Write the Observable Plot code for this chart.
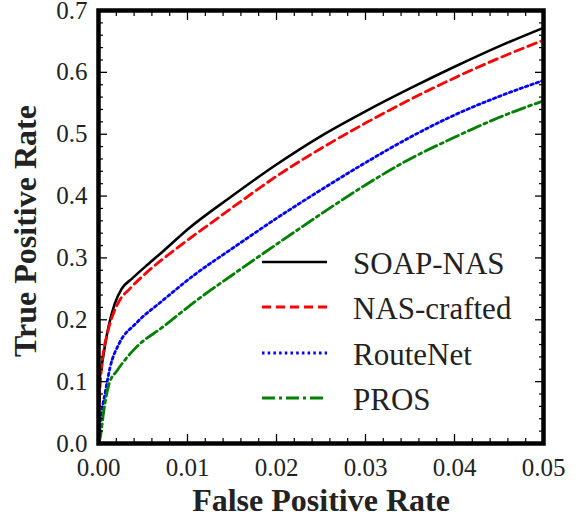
<!DOCTYPE html>
<html><head><meta charset="utf-8">
<script src="https://cdn.jsdelivr.net/npm/d3@7"></script>
<script src="https://cdn.jsdelivr.net/npm/@observablehq/plot@0.6"></script>
<style>body{margin:0;background:#fff}</style>
</head><body><div id="chart"></div>
<script>
const methods = ["SOAP-NAS", "NAS-crafted", "RouteNet", "PROS"];
const soapX = [0, 0.0001, 0.0004, 0.0011, 0.0018, 0.0026, 0.0038, 0.0055, 0.0072, 0.01, 0.015, 0.02, 0.025, 0.03, 0.035, 0.04, 0.045, 0.05];
const soapY = [0, 0.1, 0.129, 0.187, 0.225, 0.25, 0.267, 0.289, 0.31, 0.346, 0.4, 0.451, 0.497, 0.537, 0.574, 0.609, 0.642, 0.672];
const nasX = [0, 0.0001, 0.0004, 0.001, 0.0017, 0.0024, 0.0035, 0.0053, 0.009, 0.0128, 0.015, 0.02, 0.025, 0.03, 0.035, 0.04, 0.045, 0.05];
const nasY = [0, 0.065, 0.129, 0.178, 0.211, 0.232, 0.25, 0.275, 0.318, 0.358, 0.381, 0.432, 0.477, 0.518, 0.556, 0.591, 0.623, 0.652];
const rnX = [0, 0.0002, 0.0008, 0.0013, 0.0023, 0.0042, 0.0072, 0.0109, 0.015, 0.02, 0.025, 0.03, 0.035, 0.04, 0.045, 0.05];
const rnY = [0, 0.032, 0.086, 0.123, 0.161, 0.194, 0.231, 0.274, 0.315, 0.364, 0.41, 0.454, 0.495, 0.531, 0.561, 0.587];
const prosX = [0, 0.0002, 0.0006, 0.0012, 0.0021, 0.0042, 0.0072, 0.0109, 0.015, 0.02, 0.025, 0.03, 0.035, 0.04, 0.045, 0.05];
const prosY = [0, 0.01, 0.053, 0.097, 0.118, 0.155, 0.188, 0.23, 0.272, 0.322, 0.371, 0.418, 0.46, 0.495, 0.527, 0.554];
const xTicks = [0, 0.01, 0.02, 0.03, 0.04, 0.05];
const yTicks = [0, 0.1, 0.2, 0.3, 0.4, 0.5, 0.6, 0.7];

const styles = [
  {stroke: "#000000", dash: null, width: 2.6},
  {stroke: "#ff0000", dash: "9,5", width: 2.8},
  {stroke: "#0000ff", dash: "2.5,3.2", width: 2.8},
  {stroke: "#008000", dash: "13,4,3,4", width: 2.8}
];
const xs = [soapX, nasX, rnX, prosX];
const ys = [soapY, nasY, rnY, prosY];
const data = methods.map((m, i) => xs[i].map((x, j) => ({method: m, fpr: x, tpr: ys[i][j]})));

const xMinor = d3.range(0, 0.0501, 0.002).filter(v => Math.abs(v * 100 - Math.round(v * 100)) > 1e-6);
const yMinor = d3.range(0, 0.7001, 0.02).filter(v => Math.abs(v * 10 - Math.round(v * 10)) > 1e-6);
const blank = () => "";

const lines = data.map((d, i) => Plot.line(d, {
  x: "fpr", y: "tpr", stroke: styles[i].stroke, strokeWidth: styles[i].width,
  strokeDasharray: styles[i].dash, curve: "monotone-x"
}));

const plot = Plot.plot({
  width: 578, height: 517,
  marginLeft: 98, marginRight: 35, marginTop: 10, marginBottom: 74,
  style: {fontFamily: "'Liberation Serif', serif", background: "#fff", color: "#222"},
  x: {domain: [0, 0.05]},
  y: {domain: [0, 0.7]},
  marks: [
    ...lines,
    Plot.axisX(xTicks, {anchor: "bottom", tickSize: -9, tickPadding: 24, tickFormat: d3.format(".2f"), fontSize: 25, label: null, stroke: "#000", strokeWidth: 1.3}),
    Plot.axisX(xMinor, {anchor: "bottom", tickSize: -5, tickFormat: blank, label: null, stroke: "#000", strokeWidth: 1.2}),
    Plot.axisX(xTicks, {anchor: "top", tickSize: -9, tickFormat: blank, label: null, stroke: "#000", strokeWidth: 1.3}),
    Plot.axisX(xMinor, {anchor: "top", tickSize: -5, tickFormat: blank, label: null, stroke: "#000", strokeWidth: 1.2}),
    Plot.axisY(yTicks, {anchor: "left", tickSize: -9, tickPadding: 20, tickFormat: d3.format(".1f"), fontSize: 25, label: null, stroke: "#000", strokeWidth: 1.3}),
    Plot.axisY(yMinor, {anchor: "left", tickSize: -5, tickFormat: blank, label: null, stroke: "#000", strokeWidth: 1.2}),
    Plot.axisY(yTicks, {anchor: "right", tickSize: -9, tickFormat: blank, label: null, stroke: "#000", strokeWidth: 1.3}),
    Plot.axisY(yMinor, {anchor: "right", tickSize: -5, tickFormat: blank, label: null, stroke: "#000", strokeWidth: 1.2}),
    Plot.frame({stroke: "#000", strokeWidth: 4.5}),
    Plot.text(["False Positive Rate"], {frameAnchor: "bottom", textAnchor: "middle", dy: 67, fontSize: 32, fontWeight: "bold", fill: "#222"}),
    Plot.text(["True Positive Rate"], {frameAnchor: "left", textAnchor: "middle", dx: -73, dy: 4, rotate: -90, fontSize: 32, fontWeight: "bold", fill: "#222"})
  ]
});
document.getElementById("chart").appendChild(plot);

// legend inside the plot
const svg = d3.select(plot);
const lg = svg.append("g").attr("font-family", "'Liberation Serif', serif").attr("font-size", 31).attr("fill", "#222").attr("text-anchor", "start");
const rows = [262, 307, 353, 398];
methods.forEach((m, i) => {
  const g = lg.append("g").attr("transform", `translate(0,${rows[i]})`);
  g.append("line").attr("x1", 262).attr("x2", 327).attr("y1", 0).attr("y2", 0)
    .attr("stroke", styles[i].stroke).attr("stroke-width", styles[i].width)
    .attr("stroke-dasharray", styles[i].dash);
  g.append("text").attr("x", 353).attr("y", 12).attr("text-anchor", "start").text(m);
});
</script>
</body></html>
